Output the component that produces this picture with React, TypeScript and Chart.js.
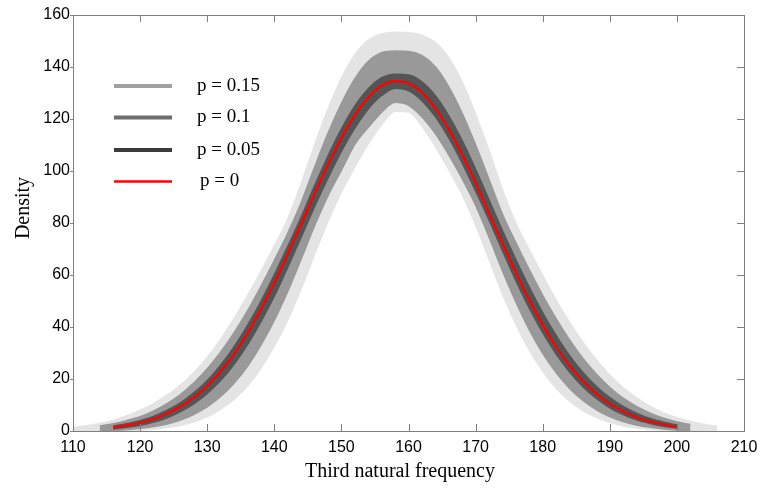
import React, { useEffect, useRef } from "react";
import { Chart, registerables } from "chart.js";
Chart.register(...registerables);

// x grid (third natural frequency)
const freq = [110, 112, 114, 116, 118, 120, 122, 124, 126, 128, 130, 132, 134, 136, 138, 140, 142, 144, 146, 148, 150, 152, 154, 156, 158, 160, 162, 164, 166, 168, 170, 172, 174, 176, 178, 180, 182, 184, 186, 188, 190, 192, 194, 196, 198, 200, 202, 204, 206];

// p = 0
const redLine = [null, null, null, 1.4, 2.1, 3.1, 4.6, 6.6, 9.3, 12.7, 17.2, 22.8, 29.5, 37.4, 46.6, 56.8, 67.8, 79.4, 91.0, 102.2, 112.5, 121.3, 128.2, 132.7, 134.6, 133.8, 130.3, 124.3, 116.2, 106.5, 95.6, 84.0, 72.4, 61.1, 50.6, 41.0, 32.5, 25.3, 19.3, 14.4, 10.5, 7.6, 5.3, 3.7, 2.5, 1.6, null, null, null];

// p = 0.05 envelope
const darkUpper = [null, null, null, 1.7, 2.6, 3.8, 5.4, 7.7, 10.6, 14.4, 19.1, 25.0, 32.0, 40.2, 49.4, 59.6, 70.5, 81.7, 93.8, 105.3, 115.7, 124.6, 131.3, 135.6, 137.0, 136.7, 134.0, 128.6, 120.8, 111.2, 100.2, 88.4, 76.6, 65.5, 54.9, 45.1, 36.4, 28.7, 22.2, 16.9, 12.6, 9.2, 6.6, 4.6, 3.2, 2.1, null, null, null];
const darkLower = [null, null, null, 1.0, 1.6, 2.4, 3.6, 5.3, 7.6, 10.7, 14.7, 19.7, 26.0, 33.5, 42.4, 52.3, 63.4, 75.0, 86.7, 97.7, 108.0, 116.9, 124.2, 129.3, 132.0, 131.1, 127.3, 121.2, 113.1, 103.5, 92.8, 81.6, 69.8, 58.3, 47.7, 38.2, 30.0, 23.0, 17.3, 12.8, 9.2, 6.5, 4.5, 3.1, 2.0, 1.3, null, null, null];

// p = 0.1 envelope
const midUpper = [null, null, 1.8, 2.6, 3.8, 5.3, 7.5, 10.3, 13.8, 18.2, 23.6, 30.0, 37.4, 45.8, 55.2, 65.2, 75.6, 87.3, 100.9, 114.0, 125.5, 135.1, 141.9, 145.3, 146.0, 145.8, 144.2, 139.8, 132.0, 121.7, 109.5, 96.2, 82.9, 72.0, 61.6, 51.8, 42.8, 34.7, 27.6, 21.6, 16.5, 12.4, 9.2, 6.7, 4.7, 3.3, 2.3, null, null];
const midLower = [null, null, 0.2, 0.4, 0.7, 1.2, 1.9, 2.9, 4.4, 6.6, 9.5, 13.5, 18.7, 25.2, 33.4, 43.0, 54.1, 66.6, 79.4, 90.9, 100.7, 110.6, 117.1, 122.9, 126.6, 125.5, 121.1, 114.7, 106.6, 97.4, 87.3, 75.1, 62.1, 50.1, 39.4, 30.3, 22.8, 16.7, 12.0, 8.4, 5.7, 3.8, 2.5, 1.6, 1.0, 0.6, 0.35, null, null];

// p = 0.15 envelope
const lightUpper = [1.2, 1.8, 2.7, 3.9, 5.6, 7.7, 10.3, 13.5, 17.3, 22.2, 28.0, 34.9, 42.8, 51.6, 60.9, 70.7, 81.1, 94.5, 109.4, 123.3, 135.2, 144.3, 150.0, 152.5, 153.2, 153.0, 152.0, 149.2, 143.2, 133.7, 121.3, 107.2, 92.2, 79.4, 69.2, 59.4, 50.0, 41.5, 33.8, 27.1, 21.2, 16.4, 12.5, 9.3, 6.8, 4.9, 3.5, 2.4, 1.6];
const lightLower = [0.02, 0.05, 0.09, 0.16, 0.3, 0.5, 0.9, 1.5, 2.4, 3.7, 5.7, 8.6, 12.5, 17.6, 24.5, 33.0, 43.2, 55.2, 68.4, 81.2, 92.3, 102.0, 110.8, 118.2, 123.2, 123.0, 117.6, 109.8, 100.9, 91.4, 79.8, 66.6, 53.3, 41.6, 31.6, 23.4, 16.8, 11.8, 8.1, 5.4, 3.5, 2.2, 1.4, 0.8, 0.5, 0.3, 0.15, 0.08, 0.05];

const xTickValues = [110, 120, 130, 140, 150, 160, 170, 180, 190, 200, 210];
const yTickValues = [0, 20, 40, 60, 80, 100, 120, 140, 160];

const legendLabels = ["p = 0.15", "p = 0.1", "p = 0.05", "p = 0"];
const legendColors = ["#a0a0a0", "#6e6e6e", "#3b3b3b", "#ff0000"];

const LIGHT = "#e4e4e4";
const MID = "#999999";
const DARK = "#555555";
const RED = "#ff0000";

const pts = (arr: (number | null)[]) =>
  freq.map((x, i) => ({ x, y: arr[i] })).filter((p) => p.y !== null) as { x: number; y: number }[];

const decor = {
  id: "decor",
  afterDatasetsDraw(chart: any) {
    const { ctx, chartArea } = chart;
    const { left, right, top, bottom } = chartArea;
    const xs = chart.scales.x;
    const ys = chart.scales.y;
    ctx.save();
    ctx.strokeStyle = "#7f7f7f";
    ctx.lineWidth = 1;
    ctx.strokeRect(left + 0.5, top + 0.5, right - left, bottom - top);
    ctx.beginPath();
    xTickValues.forEach((v) => {
      const px = Math.round(xs.getPixelForValue(v)) + 0.5;
      ctx.moveTo(px, bottom);
      ctx.lineTo(px, bottom - 7);
      ctx.moveTo(px, top);
      ctx.lineTo(px, top + 7);
    });
    yTickValues.forEach((v) => {
      const py = Math.round(ys.getPixelForValue(v)) + 0.5;
      ctx.moveTo(right, py);
      ctx.lineTo(right - 7, py);
      ctx.moveTo(left, py);
      ctx.lineTo(left - 3, py);
    });
    ctx.stroke();

    // legend
    const ly = [86, 117.5, 150, 181.5];
    const lw = [4, 4, 4, 2.5];
    const tx = [197, 197, 197, 200];
    legendLabels.forEach((lab, i) => {
      ctx.strokeStyle = legendColors[i];
      ctx.lineWidth = lw[i];
      ctx.beginPath();
      ctx.moveTo(114, ly[i]);
      ctx.lineTo(172, ly[i]);
      ctx.stroke();
      ctx.fillStyle = "#000";
      ctx.font = '19px "Liberation Serif", "Times New Roman", serif';
      ctx.textAlign = "left";
      ctx.textBaseline = "alphabetic";
      ctx.fillText(lab, tx[i], ly[i] + 4.5);
    });

    // axis titles
    ctx.fillStyle = "#000";
    ctx.font = '20px "Liberation Serif", "Times New Roman", serif';
    ctx.textAlign = "center";
    ctx.textBaseline = "alphabetic";
    ctx.fillText("Third natural frequency", 400, 477);
    ctx.save();
    ctx.translate(29, 208);
    ctx.rotate(-Math.PI / 2);
    ctx.fillText("Density", 0, 0);
    ctx.restore();
    ctx.restore();
  },
};

export default function App() {
  const ref = useRef<HTMLCanvasElement>(null);
  useEffect(() => {
    const band = (upper: (number | null)[], lower: (number | null)[], color: string) => [
      {
        data: pts(upper),
        borderColor: color,
        backgroundColor: color,
        borderWidth: 2.5,
        pointRadius: 0,
        fill: "+1",
        cubicInterpolationMode: "monotone",
      },
      {
        data: pts(lower),
        borderColor: color,
        backgroundColor: color,
        borderWidth: 2.5,
        pointRadius: 0,
        fill: false,
        cubicInterpolationMode: "monotone",
      },
    ];
    const chart = new Chart(ref.current as HTMLCanvasElement, {
      type: "line",
      data: {
        datasets: [
          {
            data: pts(redLine),
            borderColor: RED,
            backgroundColor: RED,
            borderWidth: 2.2,
            pointRadius: 0,
            fill: false,
            cubicInterpolationMode: "monotone",
          },
          ...band(darkUpper, darkLower, DARK),
          ...band(midUpper, midLower, MID),
          ...band(lightUpper, lightLower, LIGHT),
        ] as any,
      },
      options: {
        responsive: false,
        animation: false,
        events: [],
        layout: { padding: { left: 0, top: 15, right: 31, bottom: 0 } },
        plugins: { legend: { display: false }, tooltip: { enabled: false } },
        scales: {
          x: {
            type: "linear",
            min: 110,
            max: 210,
            grid: { display: false, drawTicks: false },
            border: { display: false },
            afterBuildTicks: (s: any) => {
              s.ticks = xTickValues.map((v) => ({ value: v }));
            },
            afterFit: (s: any) => {
              s.height = 58;
            },
            ticks: {
              autoSkip: false,
              maxRotation: 0,
              padding: 7,
              color: "#000",
              font: { family: '"Liberation Sans", Arial, sans-serif', size: 16 },
            },
          },
          y: {
            type: "linear",
            min: 0,
            max: 160,
            grid: { display: false, drawTicks: false },
            border: { display: false },
            afterBuildTicks: (s: any) => {
              s.ticks = yTickValues.map((v) => ({ value: v }));
            },
            afterFit: (s: any) => {
              s.width = 73;
            },
            ticks: {
              autoSkip: false,
              padding: 3,
              color: "#000",
              font: { family: '"Liberation Sans", Arial, sans-serif', size: 16 },
            },
          },
        },
      } as any,
      plugins: [decor],
    });
    return () => chart.destroy();
  }, []);
  return (
    <div style={{ position: "fixed", left: 0, top: 0, width: 775, height: 489, background: "#fff" }}>
      <canvas ref={ref} width={775} height={489} style={{ display: "block", width: 775, height: 489 }} />
    </div>
  );
}
